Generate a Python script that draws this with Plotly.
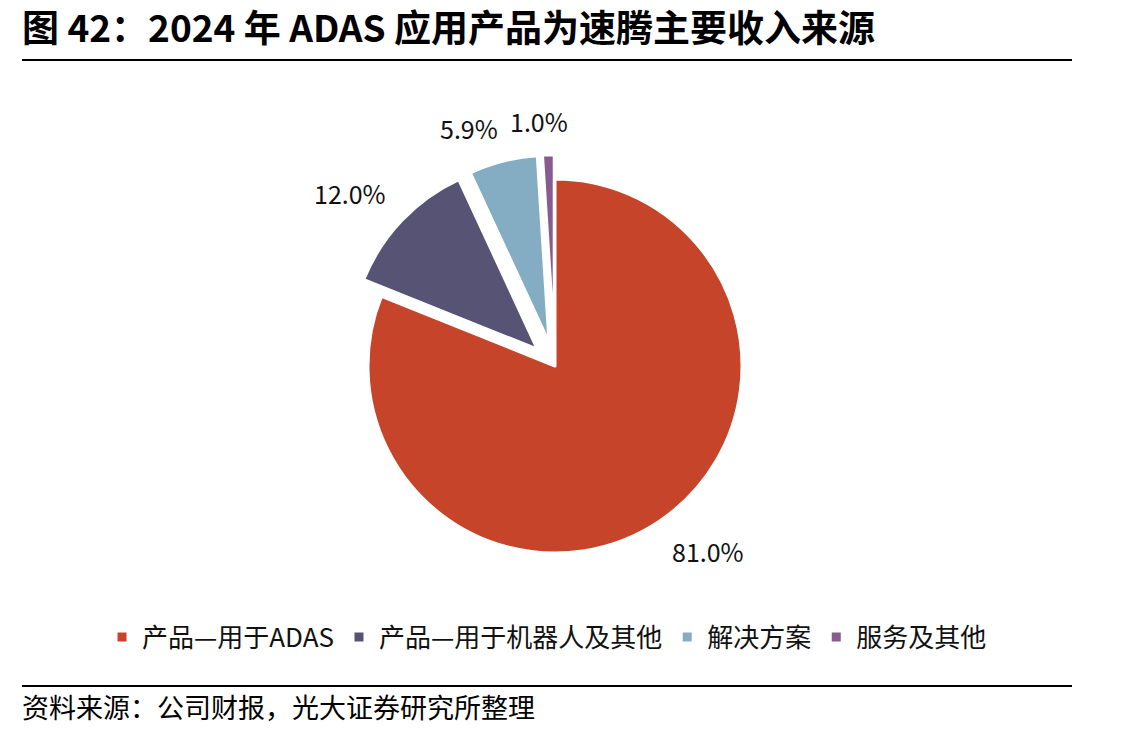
import math
import plotly.graph_objects as go

labels = ["产品—用于ADAS", "产品—用于机器人及其他", "解决方案", "服务及其他"]
values = [81.0, 12.0, 5.9, 1.0]
colors = ["#C5442A", "#575374", "#84ADC3", "#875B8F"]
pulls = [0, 0.13, 0.13, 0.13]

title_text = "图 42：2024 年 ADAS 应用产品为速腾主要收入来源"
source_text = "资料来源：公司财报，光大证券研究所整理"

W, H = 1142, 734
FONT = "Noto Sans CJK SC"
LABEL_SIZE = 25

cx, cy, r = 555, 366, 187
rd = r * (1 + max(pulls))

fig = go.Figure(go.Pie(
    labels=labels, values=values, sort=False, direction="clockwise", rotation=0,
    pull=pulls,
    marker=dict(colors=colors, line=dict(color="white", width=3)),
    textinfo="none",
    domain=dict(x=[(cx - rd - 5) / W, (cx + rd + 5) / W],
                y=[(H - cy - rd) / H, (H - cy + rd) / H]),
    hoverinfo="skip", automargin=False,
))


def text_width(s, size):
    w = 0
    for ch in s:
        if ch.isdigit():
            w += 0.572
        elif ch == ".":
            w += 0.27
        elif ch == "%":
            w += 0.86
        else:
            w += 0.6
    return w * size


def clamp(v):
    return max(-1.0, min(1.0, v))


# data labels: nearest corner of each label sits on the slice's mid-angle ray
annotations = []
total = sum(values)
cum = 0.0
gap = 22
for v, p in zip(values, pulls):
    mid = (cum + v / 2) / total * 2 * math.pi
    cum += v
    dx, dy = math.sin(mid), -math.cos(mid)  # screen coords, y down
    txt = f"{v:.1f}%"
    hw, hh = text_width(txt, LABEL_SIZE) / 2, LABEL_SIZE * 0.48
    d = r * (1 + p) + gap
    px = cx + dx * d + clamp(dx / 0.1) * hw
    py = cy + dy * d + clamp(dy / 0.1) * hh
    annotations.append(dict(text=txt, xref="paper", yref="paper", x=px / W, y=(H - py) / H,
                            xanchor="center", yanchor="middle", showarrow=False,
                            font=dict(family=FONT, size=LABEL_SIZE, color="#111111")))

annotations += [
    dict(text="<b>" + title_text + "</b>", xref="paper", yref="paper",
         x=20 / W, y=(H - 26) / H, xanchor="left", yanchor="middle", showarrow=False,
         font=dict(family=FONT, size=37, color="black")),
    dict(text=source_text, xref="paper", yref="paper",
         x=20 / W, y=(H - 706) / H, xanchor="left", yanchor="middle", showarrow=False,
         font=dict(family=FONT, size=27, color="black")),
]

fig.update_layout(
    width=W, height=H, margin=dict(l=0, r=0, t=0, b=0),
    paper_bgcolor="white", plot_bgcolor="white",
    font=dict(family=FONT, color="#111111"),
    showlegend=True,
    legend=dict(orientation="h", x=0.479, xanchor="center", y=(H - 637) / H, yanchor="middle",
                font=dict(family=FONT, size=26, color="#111111"),
                itemwidth=30, tracegroupgap=0, traceorder="normal"),
    shapes=[
        dict(type="line", xref="paper", yref="paper", x0=22 / W, x1=1072 / W,
             y0=(H - 60) / H, y1=(H - 60) / H, line=dict(color="black", width=2)),
        dict(type="line", xref="paper", yref="paper", x0=22 / W, x1=1072 / W,
             y0=(H - 686) / H, y1=(H - 686) / H, line=dict(color="black", width=2)),
    ],
    annotations=annotations,
)

fig.write_html("out.html")
